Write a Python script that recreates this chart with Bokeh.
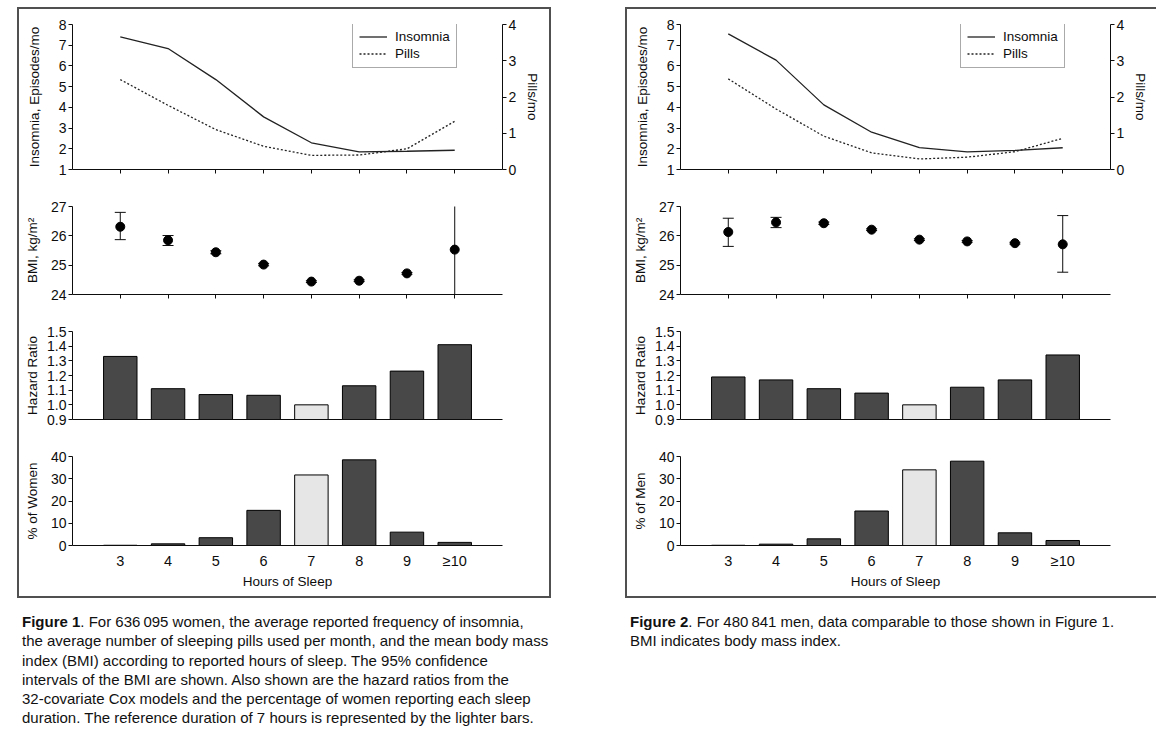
from bokeh.plotting import figure
from bokeh.models import (Range1d, LinearAxis, FixedTicker, Whisker, ColumnDataSource,
                          Legend, LegendItem, Div, Spacer, TeeHead, NumeralTickFormatter)
from bokeh.layouts import column, row
from bokeh.embed import file_html
from bokeh.resources import INLINE

# ---------------- data ----------------
hours = [3, 4, 5, 6, 7, 8, 9, 10]
hour_labels = ["3", "4", "5", "6", "7", "8", "9", "\u226510"]
reference_hour = 7

women_insomnia = [7.40, 6.84, 5.34, 3.54, 2.29, 1.85, 1.88, 1.93]
women_pills = [2.48, 1.77, 1.10, 0.64, 0.39, 0.40, 0.57, 1.33]
women_bmi = [26.31, 25.85, 25.44, 25.02, 24.44, 24.47, 24.72, 25.53]
women_bmi_low = [25.87, 25.67, 25.39, 24.98, 24.41, 24.44, 24.69, 24.00]
women_bmi_high = [26.80, 26.01, 25.49, 25.06, 24.47, 24.50, 24.75, 27.11]
women_hr = [1.33, 1.11, 1.07, 1.065, 1.00, 1.13, 1.23, 1.41]
women_pct = [0.1, 0.75, 3.5, 15.8, 31.7, 38.5, 6.0, 1.4]

men_insomnia = [7.55, 6.28, 4.12, 2.80, 2.06, 1.85, 1.92, 2.05]
men_pills = [2.50, 1.67, 0.92, 0.46, 0.29, 0.34, 0.49, 0.86]
men_bmi = [26.13, 26.46, 26.43, 26.21, 25.87, 25.81, 25.75, 25.71]
men_bmi_low = [25.64, 26.28, 26.39, 26.18, 25.84, 25.78, 25.72, 24.76]
men_bmi_high = [26.60, 26.63, 26.47, 26.24, 25.90, 25.84, 25.78, 26.69]
men_hr = [1.19, 1.17, 1.11, 1.08, 1.00, 1.12, 1.17, 1.34]
men_pct = [0.1, 0.6, 3.0, 15.5, 34.0, 37.9, 5.7, 2.25]

insomnia_ticks = [1, 2, 3, 4, 5, 6, 7, 8]
pills_ticks = [0, 1, 2, 3, 4]
bmi_ticks = [24, 25, 26, 27]
hr_ticks = [0.9, 1.0, 1.1, 1.2, 1.3, 1.4, 1.5]
pct_ticks = [0, 10, 20, 30, 40]

caption1_lines = [
    "<b>Figure 1</b>. For 636\u2009095 women, the average reported frequency of insomnia,",
    "the average number of sleeping pills used per month, and the mean body mass",
    "index (BMI) according to reported hours of sleep. The 95% confidence",
    "intervals of the BMI are shown. Also shown are the hazard ratios from the",
    "32-covariate Cox models and the percentage of women reporting each sleep",
    "duration. The reference duration of 7 hours is represented by the lighter bars.",
]
caption2_lines = [
    "<b>Figure 2</b>. For 480\u2009841 men, data comparable to those shown in Figure 1.",
    "BMI indicates body mass index.",
]

# ---------------- style ----------------
FONT = "'Liberation Sans', Arial, sans-serif"
CAP_FONT = "'Liberation Sans', Arial, sans-serif"
INK = "#0d0d0d"
DARK = "#484848"
LIGHT = "#e6e6e6"
FW = 430
ML, MR = 53, 47


def base_fig(fh, mt, mb, y_range):
    p = figure(frame_width=FW, frame_height=fh, min_border_left=ML, min_border_right=MR,
               min_border_top=mt, min_border_bottom=mb,
               x_range=Range1d(2, 11), y_range=y_range,
               output_backend="svg", toolbar_location=None,
               background_fill_color="white", border_fill_color="white")
    p.outline_line_color = None
    p.xgrid.visible = False
    p.ygrid.visible = False
    return p


def style_axis(ax, tick_out=4, label_size="14px", standoff=2, label_standoff=10):
    ax.axis_line_color = INK
    ax.axis_line_width = 1
    ax.major_tick_line_color = INK
    ax.major_tick_in = 0
    ax.major_tick_out = tick_out
    ax.minor_tick_line_color = None
    ax.major_label_text_font = FONT
    ax.major_label_text_font_size = label_size
    ax.major_label_text_color = INK
    ax.major_label_standoff = standoff
    ax.axis_label_text_font = FONT
    ax.axis_label_text_font_size = "13.5px"
    ax.axis_label_text_font_style = "normal"
    ax.axis_label_text_color = INK
    ax.axis_label_standoff = label_standoff


def hide_x_labels(ax, ticks=True):
    ax.ticker = FixedTicker(ticks=hours)
    ax.major_label_overrides = {h: "" for h in hours}
    ax.major_label_standoff = 0
    if not ticks:
        ax.major_tick_out = 0
        ax.major_tick_line_color = None


def panel_lines(insomnia, pills):
    p = base_fig(145, 15, 18, Range1d(1, 8))
    p.extra_y_ranges = {"pills": Range1d(0, 4)}
    r1 = p.line(hours, insomnia, line_color="#222222", line_width=1.3)
    r2 = p.line(hours, pills, y_range_name="pills", line_color="#222222",
                line_width=1.3, line_dash="2 2")
    style_axis(p.xaxis[0])
    hide_x_labels(p.xaxis[0])
    ya = p.yaxis[0]
    style_axis(ya, label_standoff=14)
    ya.ticker = FixedTicker(ticks=insomnia_ticks)
    ya.axis_label = "Insomnia, Episodes/mo"
    ra = LinearAxis(y_range_name="pills", axis_label="Pills/mo")
    style_axis(ra, label_standoff=6)
    ra.ticker = FixedTicker(ticks=pills_ticks)
    p.add_layout(ra, "right")
    leg = Legend(items=[LegendItem(label="Insomnia", renderers=[r1]),
                        LegendItem(label="Pills", renderers=[r2])],
                 location=(280, 101))
    leg.margin = 0
    leg.padding = 6
    leg.spacing = 2
    leg.glyph_width = 28
    leg.glyph_height = 15
    leg.label_height = 15
    leg.label_standoff = 8
    leg.label_text_font = FONT
    leg.label_text_font_size = "13.5px"
    leg.label_text_color = INK
    leg.label_text_baseline = "middle"
    leg.border_line_color = "#555555"
    leg.border_line_width = 1.5
    leg.background_fill_color = "white"
    p.add_layout(leg)
    return p


def panel_bmi(bmi, lo, hi):
    p = base_fig(88, 19, 20, Range1d(24, 27))
    src = ColumnDataSource(dict(x=hours, y=bmi, lo=lo, hi=hi))
    w = Whisker(source=src, base="x", upper="hi", lower="lo",
                line_color=INK, line_width=1,
                upper_head=TeeHead(size=11, line_color=INK, line_width=1),
                lower_head=TeeHead(size=11, line_color=INK, line_width=1))
    p.add_layout(w)
    p.scatter("x", "y", source=src, size=9, fill_color="black", line_color="black")
    style_axis(p.xaxis[0])
    hide_x_labels(p.xaxis[0])
    ya = p.yaxis[0]
    style_axis(ya, label_standoff=8)
    ya.ticker = FixedTicker(ticks=bmi_ticks)
    ya.axis_label = "BMI, kg/m\u00b2"
    return p


def bar_colors():
    return [LIGHT if h == reference_hour else DARK for h in hours]


def panel_hr(hr):
    p = base_fig(88, 17, 20, Range1d(0.9, 1.5))
    p.vbar(x=hours, top=hr, bottom=0.9, width=0.7, fill_color=bar_colors(),
           line_color="black", line_width=1)
    style_axis(p.xaxis[0])
    hide_x_labels(p.xaxis[0], ticks=False)
    ya = p.yaxis[0]
    style_axis(ya, label_standoff=4)
    ya.ticker = FixedTicker(ticks=hr_ticks)
    ya.formatter = NumeralTickFormatter(format="0.0")
    ya.axis_label = "Hazard Ratio"
    return p


def panel_pct(pct, who):
    p = base_fig(89, 17, 51, Range1d(0, 40))
    p.vbar(x=hours, top=pct, bottom=0, width=0.7, fill_color=bar_colors(),
           line_color="black", line_width=1)
    xa = p.xaxis[0]
    style_axis(xa, tick_out=0, label_size="14.5px", standoff=7, label_standoff=2)
    xa.major_tick_line_color = None
    xa.ticker = FixedTicker(ticks=hours)
    xa.major_label_overrides = {h: lab for h, lab in zip(hours, hour_labels)}
    xa.axis_label = "Hours of Sleep"
    ya = p.yaxis[0]
    style_axis(ya, label_standoff=8)
    ya.ticker = FixedTicker(ticks=pct_ticks)
    ya.axis_label = "% of " + who
    return p


def caption(lines, width):
    html = ("<div style=\"font-family:%s; font-size:15px; line-height:19.3px; "
            "color:#111; white-space:nowrap;\">%s</div>") % (CAP_FONT, "<br>".join(lines))
    return Div(text=html, width=width)


BOX_STYLE = {"border": "2px solid #505050", "background-color": "white"}

box1 = column(panel_lines(women_insomnia, women_pills),
              panel_bmi(women_bmi, women_bmi_low, women_bmi_high),
              panel_hr(women_hr),
              panel_pct(women_pct, "Women"), spacing=0, styles=BOX_STYLE)
box2 = column(panel_lines(men_insomnia, men_pills),
              panel_bmi(men_bmi, men_bmi_low, men_bmi_high),
              panel_hr(men_hr),
              panel_pct(men_pct, "Men"), spacing=0, styles=BOX_STYLE)

col1 = column(box1, Spacer(height=9), caption(caption1_lines, 540), spacing=0)
col2 = column(box2, Spacer(height=9), caption(caption2_lines, 540), spacing=0)

root = column(Spacer(height=7),
              row(Spacer(width=17), col1, Spacer(width=58), col2, spacing=0),
              spacing=0)

open("out.html", "w").write(file_html(root, INLINE))
